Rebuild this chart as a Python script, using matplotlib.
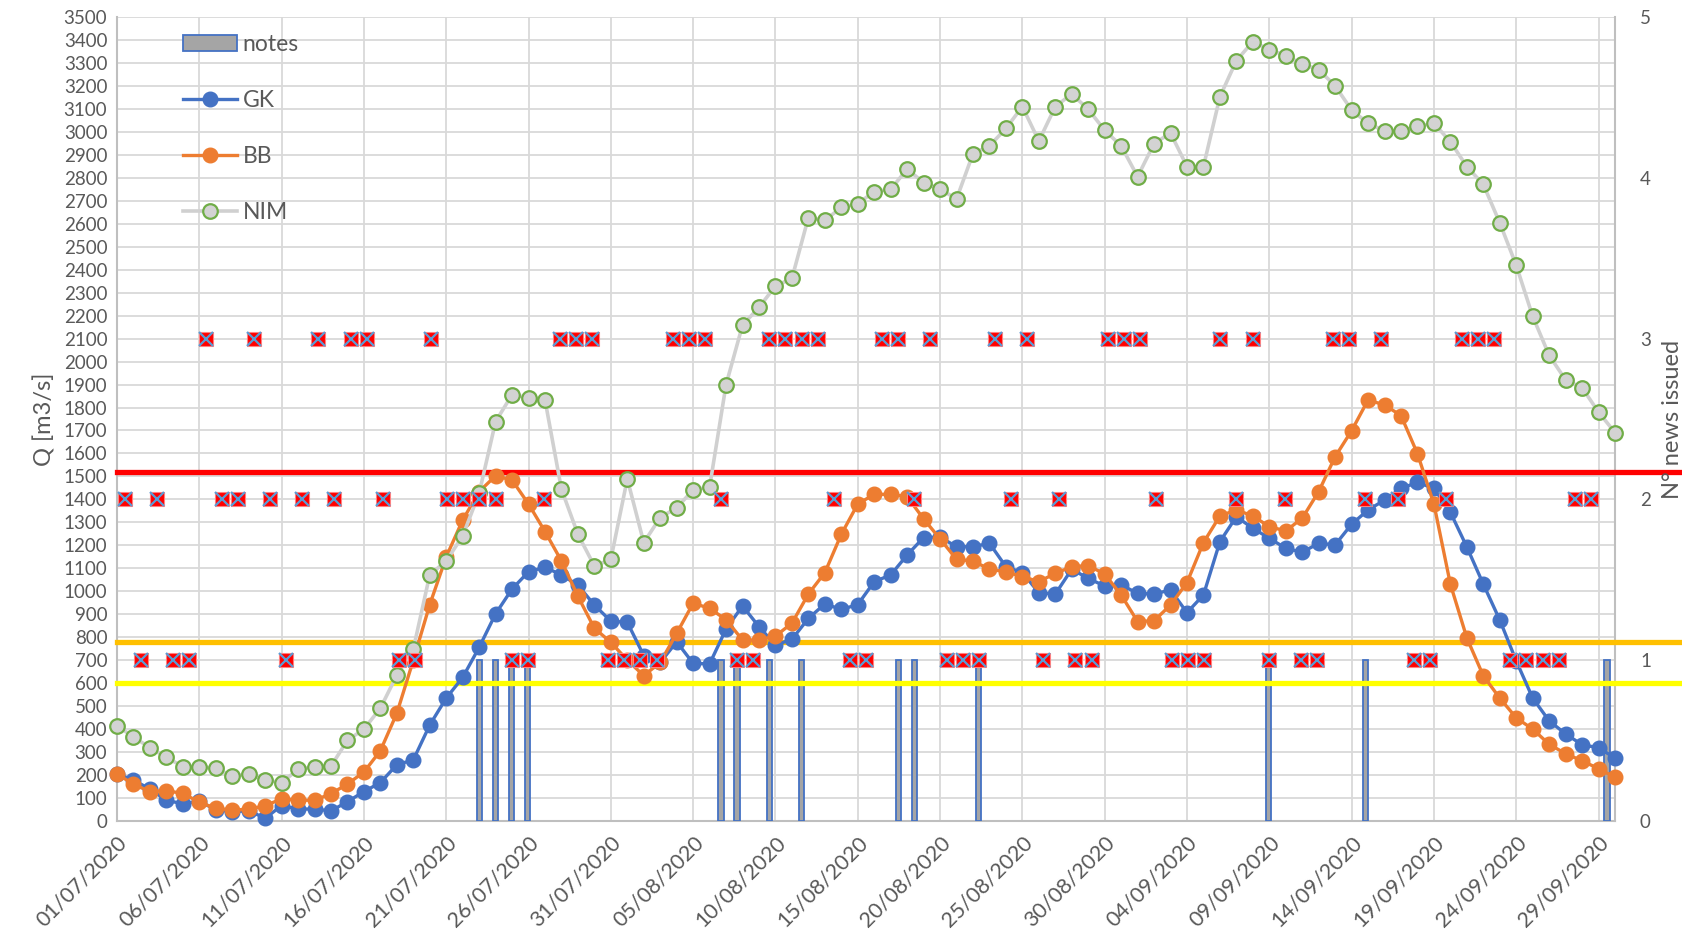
import matplotlib
matplotlib.use('Agg')
import matplotlib.pyplot as plt
from matplotlib.patches import Patch
from matplotlib.lines import Line2D
import pandas as pd

plt.rcParams['font.family'] = ['Lato', 'DejaVu Sans']

# ---------------- data ----------------
dates = pd.date_range('2020-07-01', '2020-09-30', freq='D')
tick_labels = ['01/07/2020', '06/07/2020', '11/07/2020', '16/07/2020', '21/07/2020',
               '26/07/2020', '31/07/2020', '05/08/2020', '10/08/2020', '15/08/2020',
               '20/08/2020', '25/08/2020', '30/08/2020', '04/09/2020', '09/09/2020',
               '14/09/2020', '19/09/2020', '24/09/2020', '29/09/2020']

gk = [205, 178, 139, 90, 75, 85, 50, 40, 45, 12,
      67, 52, 52, 44, 84, 128, 167, 245, 266, 418,
      535, 625, 756, 902, 1010, 1085, 1105, 1071, 1027, 940,
      870, 865, 720, 690, 780, 686, 684, 836, 936, 846,
      766, 791, 882, 945, 921, 942, 1042, 1071, 1158, 1234,
      1236, 1194, 1194, 1209, 1107, 1081, 994, 988, 1096, 1056,
      1023, 1028, 991, 988, 1006, 907, 984, 1216, 1325, 1274,
      1231, 1187, 1170, 1209, 1202, 1292, 1354, 1397, 1448, 1474,
      1448, 1344, 1193, 1031, 875, 697, 535, 436, 379, 332,
      319, 274]

bb = [205, 160, 128, 132, 120, 82, 55, 48, 51, 67,
      96, 91, 90, 119, 161, 213, 306, 469, 700, 942,
      1150, 1310, 1434, 1503, 1484, 1380, 1260, 1132, 978, 839,
      778, 700, 633, 690, 817, 948, 926, 876, 788, 788,
      805, 861, 988, 1081, 1248, 1380, 1422, 1422, 1412, 1315,
      1228, 1139, 1132, 1096, 1085, 1064, 1042, 1078, 1107, 1112,
      1075, 984, 868, 872, 940, 1038, 1212, 1328, 1354, 1328,
      1281, 1263, 1318, 1434, 1586, 1699, 1833, 1811, 1765, 1599,
      1380, 1031, 797, 632, 535, 449, 400, 334, 293, 262,
      228, 190]

nim = [414, 366, 319, 277, 237, 237, 229, 196, 205, 178,
       167, 225, 237, 239, 351, 400, 491, 635, 748, 1072,
       1132, 1241, 1427, 1739, 1856, 1843, 1833, 1444, 1248, 1110,
       1139, 1489, 1212, 1321, 1364, 1441, 1454, 1900, 2159, 2236,
       2329, 2362, 2627, 2615, 2671, 2687, 2740, 2750, 2838, 2779,
       2751, 2708, 2905, 2939, 3015, 3110, 2960, 3110, 3165, 3098,
       3007, 2939, 2805, 2949, 2995, 2849, 2849, 3153, 3310, 3393,
       3358, 3332, 3295, 3271, 3200, 3095, 3037, 3004, 3004, 3024,
       3037, 2957, 2849, 2771, 2604, 2419, 2197, 2027, 1920, 1886,
       1780, 1691]

# secondary category axis (93 categories) : news issued per day and notes
news = [2, 1, 2, 1, 1, 3, 2, 2, 3, 2,
        1, 2, 3, 2, 3, 3, 2, 1, 1, 3,
        2, 2, 2, 2, 1, 1, 2, 3, 3, 3,
        1, 1, 1, 1, 3, 3, 3, 2, 1, 1,
        3, 3, 3, 3, 2, 1, 1, 3, 3, 2,
        3, 1, 1, 1, 3, 2, 3, 1, 2, 1,
        1, 3, 3, 3, 2, 1, 1, 1, 3, 2,
        3, 1, 2, 1, 1, 3, 3, 2, 3, 2,
        1, 1, 2, 3, 3, 3, 1, 1, 1, 1,
        2, 2]
notes_cat = [22, 23, 24, 25, 37, 38, 40, 42, 48, 49, 53, 71, 77, 92]
notes_val = [1, 1, 1, 1, 1, 1, 1, 1, 1, 1, 1, 1, 1, 1]
n_sec_cats = 93

thr_vals = [1520, 780, 600]
thr_colors = ['#ff0000', '#ffc000', '#ffff00']

# ---------------- figure ----------------
W, H = 1683, 939
fig = plt.figure(figsize=(W / 100, H / 100), dpi=100)
L, R, T, B = 117, 1615, 17, 821
rect = [L / W, 1 - B / H, (R - L) / W, (B - T) / H]

txt = '#595959'
grid_c = '#d9d9d9'

ax = fig.add_axes(rect)                                   # primary: grid/ticks
axb = fig.add_axes(rect, frameon=False)                   # secondary: bars
axl = fig.add_axes(rect, sharex=ax, sharey=ax, frameon=False)   # primary: lines
axm = fig.add_axes(rect, sharex=axb, sharey=axb, frameon=False)  # secondary: markers
ax.set_zorder(0)
axb.set_zorder(1)
axl.set_zorder(2)
axm.set_zorder(3)
for a in (axb, axl, axm):
    a.patch.set_visible(False)

x = list(range(len(dates)))

# primary axis
ax.set_xlim(x[0], x[-1])
ax.set_ylim(0, 3500)
ax.set_yticks(range(0, 3501, 100))
ax.set_yticklabels([str(v) for v in range(0, 3501, 100)])
ax.set_xticks(x[::5])
ax.set_xticklabels(tick_labels, rotation=45, ha='right', rotation_mode='anchor')
ax.tick_params(axis='both', length=0, colors=txt)
ax.tick_params(axis='y', pad=7, labelsize=13.5)
ax.tick_params(axis='x', pad=8, labelsize=15.5)
ax.grid(True, color=grid_c, lw=1.3)
ax.set_axisbelow(True)
for s in ('left', 'bottom', 'right'):
    ax.spines[s].set_color('#bfbfbf')
    ax.spines[s].set_linewidth(1.5)
ax.spines['top'].set_visible(False)
ax.set_ylabel('Q [m3/s]', color=txt, fontsize=17, labelpad=6)

# bars (secondary)
axb.set_xlim(-0.5, n_sec_cats - 0.5)
axb.set_ylim(0, 5)
bars = axb.bar(notes_cat, notes_val, width=0.33, color='#a5a5a5',
               edgecolor='#4472c4', linewidth=1.3)
axb.axis('off')

# lines (primary)
for yv, c in zip(thr_vals, thr_colors):
    axl.axhline(yv, xmin=0, xmax=(W - L) / (R - L), color=c, lw=3.8,
                clip_on=False, zorder=2)
l_gk, = axl.plot(x, gk, color='#4472c4', lw=2.4, marker='o', ms=10.5,
                 mfc='#4472c4', mec='#4472c4', zorder=3, clip_on=False)
l_bb, = axl.plot(x, bb, color='#ed7d31', lw=2.4, marker='o', ms=10.5,
                 mfc='#ed7d31', mec='#ed7d31', zorder=4, clip_on=False)
l_nim, = axl.plot(x, nim, color='#d0d0d0', lw=2.6, marker='o', ms=10.5,
                  mfc='#d3d3d3', mec='#70ad47', mew=1.6, zorder=5, clip_on=False)
axl.axis('off')

# news markers (secondary)
news_cat = list(range(len(news)))
axm.plot(news_cat, news, ls='none', marker='s', ms=10.5, mfc='#ff0000',
         mec='#ff8080', mew=0.8, zorder=3)
axm.plot(news_cat, news, ls='none', marker='x', ms=10, mec='#5b9bd5',
         mew=1.6, zorder=4)
axm.xaxis.set_visible(False)
axm.yaxis.tick_right()
axm.yaxis.set_label_position('right')
axm.set_yticks(range(0, 6))
axm.tick_params(axis='y', length=0, colors=txt, labelsize=13.5, pad=18)
axm.set_ylabel('N° news issued', color=txt, fontsize=17, labelpad=8)

# legend
handles = [Patch(facecolor='#a5a5a5', edgecolor='#4472c4', linewidth=1.3),
           l_gk, l_bb, l_nim]
labels = ['notes', 'GK', 'BB', 'NIM']
leg = axm.legend(handles, labels, loc='upper left',
                 bbox_to_anchor=(183 / W, 1 - 34 / H), bbox_transform=fig.transFigure,
                 frameon=False, fontsize=16.5, labelcolor=txt, handlelength=2.35,
                 handletextpad=0.25, labelspacing=1.53, borderpad=0, borderaxespad=0)

fig.savefig('out.png', dpi=100)
